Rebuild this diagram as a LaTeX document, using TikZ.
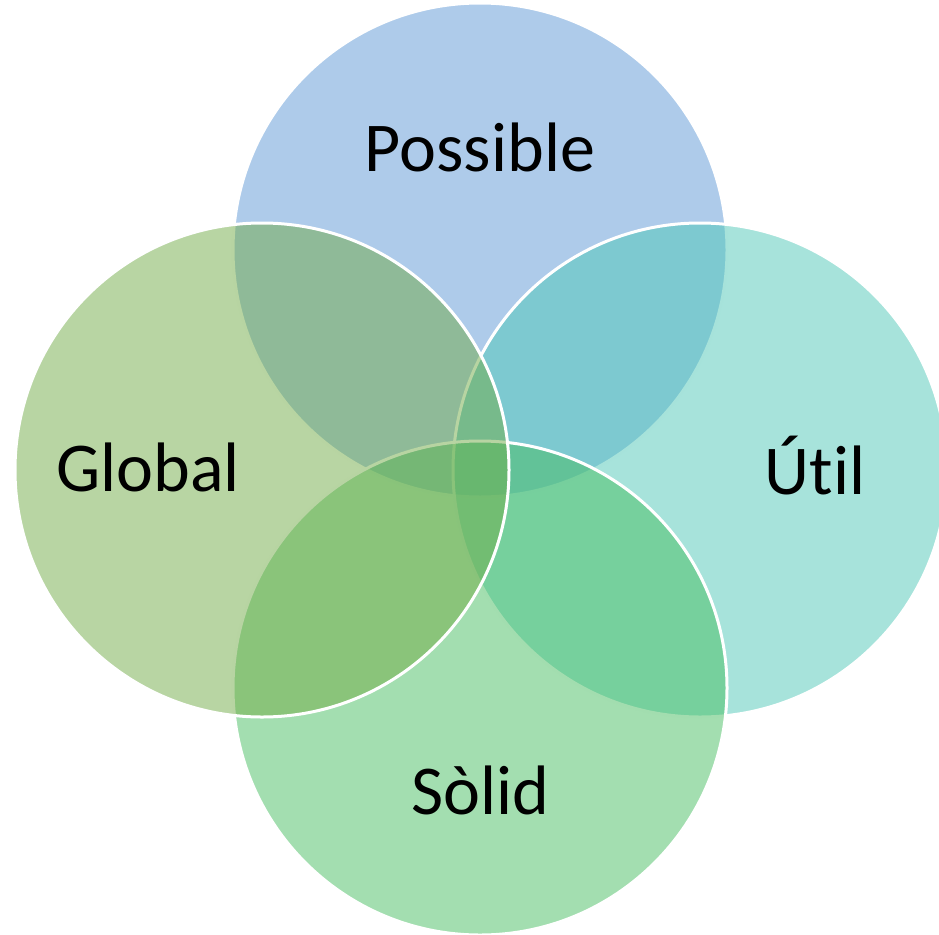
\documentclass[tikz,border=0pt]{standalone}
\usepackage{fontspec}
\setmainfont{Carlito}[Ligatures=NoCommon]
\usepackage{tikz}
\usetikzlibrary{positioning}

\definecolor{possibleblue}{HTML}{5D97D5}
\definecolor{globalgreen}{HTML}{71AB47}
\definecolor{utilteal}{HTML}{4FC7B7}
\definecolor{solidgreen}{HTML}{47BD61}

\begin{document}
\begin{tikzpicture}[x=1pt, y=-1pt,
      petal/.style={circle, draw=white, line width=3pt, fill opacity=0.5,
      inner sep=0pt, minimum size=494pt},
      petallabel/.style={font=\fontsize{70}{84}\selectfont, text=black} ]

    \useasboundingbox (0,0) rectangle (939,934);
    \clip (0,0) rectangle (939,934);

    % Circles, back to front
    \node[petal, fill=possibleblue] (possible) at (480,250) {};
    \node[petal, fill=utilteal] (util) at (700,470) {};
    \node[petal, fill=solidgreen] (solid) at (480,688) {};
    \node[petal, fill=globalgreen] (global) at (262,470) {};

    % Labels inside circles
    \node[petallabel] (possiblelabel) at (480,147) {Possible};
    \node[petallabel] (utillabel) at (815,466) {Útil};
    \node[petallabel] (solidlabel) at (480,790) {Sòlid};
    \node[petallabel] (globallabel) at (148,467) {Global};

\end{tikzpicture}
\end{document}
